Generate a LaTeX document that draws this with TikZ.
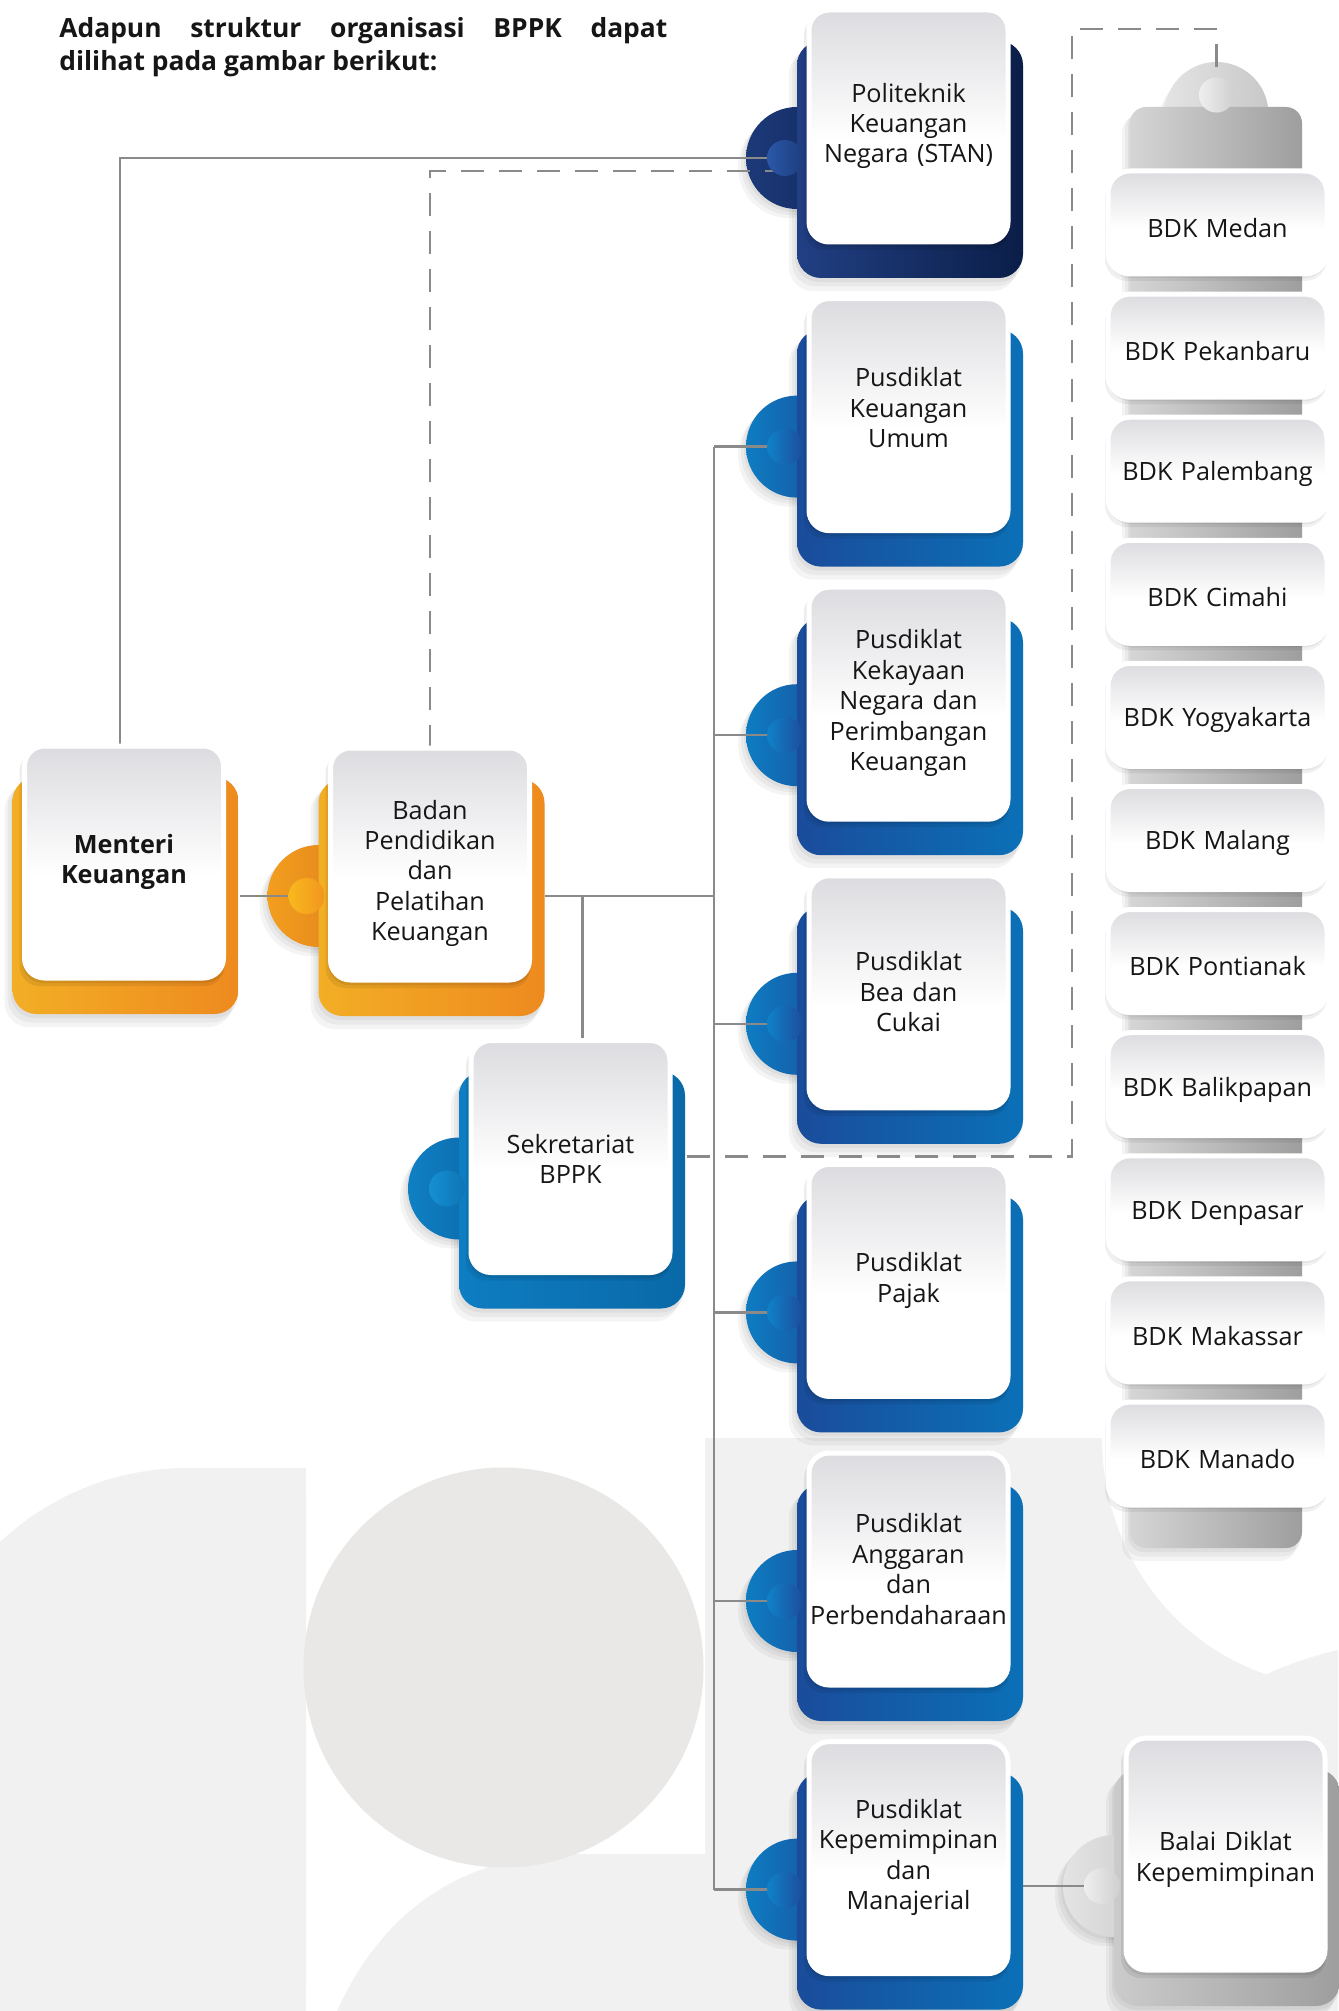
\documentclass[tikz,border=0pt]{standalone}
\usepackage{fontspec}
\setmainfont{Open Sans}
\usetikzlibrary{calc}
\pgfdeclarelayer{bgl}\pgfdeclarelayer{backl}\pgfdeclarelayer{linel}\pgfdeclarelayer{dotl}
\pgfsetlayers{bgl,backl,linel,dotl,main}
\definecolor{cardtop}{HTML}{DCDCE0}
\definecolor{txt}{HTML}{161616}
\definecolor{lineg}{HTML}{8A8A8A}
\definecolor{bgA}{HTML}{F1F1F1}
\definecolor{bgB}{HTML}{E9E8E6}
\definecolor{oL}{HTML}{F2AE25}\definecolor{oR}{HTML}{EE8A1F}
\definecolor{ohL}{HTML}{F39E1F}\definecolor{ohR}{HTML}{DD7E1A}
\definecolor{odL}{HTML}{F8B81E}\definecolor{odR}{HTML}{F2961E}
\definecolor{bL}{HTML}{1A4C9B}\definecolor{bR}{HTML}{0B70B7}
\definecolor{bhL}{HTML}{0E7CC2}\definecolor{bhR}{HTML}{1B4A97}
\definecolor{bdL}{HTML}{0F82C8}\definecolor{bdR}{HTML}{1D4C9C}
\definecolor{nL}{HTML}{213F83}\definecolor{nR}{HTML}{0B1E48}
\definecolor{nhL}{HTML}{1C3978}\definecolor{nhR}{HTML}{12295F}
\definecolor{ndL}{HTML}{2A58A8}\definecolor{ndR}{HTML}{1E3D7F}
\definecolor{kL}{HTML}{0E7DC2}\definecolor{kR}{HTML}{0A69A8}
\definecolor{khL}{HTML}{0F80C4}\definecolor{khR}{HTML}{0B62A0}
\definecolor{kdL}{HTML}{1590D2}\definecolor{kdR}{HTML}{0E74B6}
\definecolor{gL}{HTML}{CBCBCB}\definecolor{gR}{HTML}{9E9E9E}
\definecolor{ghL}{HTML}{E4E4E4}\definecolor{ghR}{HTML}{C8C8C8}
\definecolor{gdL}{HTML}{EFEFEF}\definecolor{gdR}{HTML}{CFCFCF}
\pgfdeclareverticalshading{cardshade}{100bp}{color(0bp)=(white); color(25bp)=(white); color(47bp)=(white); color(75bp)=(cardtop); color(100bp)=(cardtop)}
\newcommand{\cardfont}{\fontsize{12.6pt}{15.2pt}\selectfont}
\newcommand{\ttlfont}{\fontsize{13.2pt}{16.2pt}\selectfont\bfseries}
\newcommand{\pushdn}[1]{\rule{0pt}{#1}}
\newcommand{\pushup}[1]{\rule[-#1]{0pt}{0pt}}
\tikzset{
  card/.style={rectangle, rounded corners=10pt, text width=99.5pt, minimum height=116pt,
    draw=white, line width=2.5pt, shade, shading=cardshade, align=center, font=\cardfont,
    text=txt, inner xsep=0pt, inner ysep=2pt, outer sep=0pt},
  bdkbox/.style={card, rounded corners=11pt, text width=109.5pt, minimum height=51.5pt},
  backbase/.style={rounded corners=12pt},
  halfbase/.style={},
  orangeback/.style={backbase, left color=oL, right color=oR},
  orangehalf/.style={halfbase, left color=ohL, right color=ohR},
  orangedot/.style={left color=odL, right color=odR},
  plainback/.style={orangeback}, plainhalf/.style={}, plaindot/.style={},
  plainhs/.style={opacity=0},
  blueback/.style={backbase, left color=bL, right color=bR},
  bluehalf/.style={halfbase, left color=bhL, right color=bhR},
  bluedot/.style={left color=bdL, right color=bdR},
  navyback/.style={backbase, left color=nL, right color=nR},
  navyhalf/.style={halfbase, left color=nhL, right color=nhR},
  navydot/.style={left color=ndL, right color=ndR},
  sekbback/.style={backbase, left color=kL, right color=kR},
  sekbhalf/.style={halfbase, left color=khL, right color=khR},
  sekbdot/.style={left color=kdL, right color=kdR},
  grayback/.style={backbase, left color=gL, right color=gR},
  grayhalf/.style={halfbase, left color=ghL, right color=ghR},
  graydot/.style={left color=gdL, right color=gdR},
  orangehs/.style={}, bluehs/.style={}, navyhs/.style={}, sekbhs/.style={}, grayhs/.style={},
  conn/.style={draw=lineg, line width=1.25pt},
  dconn/.style={draw=lineg, line width=1.25pt, dash pattern=on 11.5pt off 7.5pt},
  shad/.style={fill=black, opacity=0.045},
}
\newcommand{\orgcard}[6]{%
  \node[card,#6] (#1) at (#2,#3) {#5};
  \coordinate (#1-in) at ($(#1.west)+(-24,32)$);
  \begin{pgfonlayer}{backl}
    \foreach \s in {0,3,6}
      \fill[shad, rounded corners=12pt] ($(#1.north west)+(-14-\s,34+\s)$) rectangle ($(#1.south east)+(15-\s,40+1.5*\s)$);
    \foreach \s in {0,3,6}
      \fill[shad, #4hs] ($(#1.west)+(-14-\s,35+\s)$) circle (25.5pt);
    \path[#4half] ($(#1.west)+(-12,32)$) circle (25.5pt);
    \path[#4back] ($(#1.north west)+(-12,31)$) rectangle ($(#1.south east)+(15,36)$);
    \foreach \s in {0,3}
      \fill[black, opacity=0.07, rounded corners=10pt] ($(#1.north west)+(-2-\s,2+\s)$) rectangle ($(#1.south east)+(1,5+\s)$);
  \end{pgfonlayer}
  \begin{pgfonlayer}{dotl}
    \path[#4dot] (#1-in) circle (9pt);
  \end{pgfonlayer}}
\begin{document}
\begin{tikzpicture}[x=0.5pt,y=-0.5pt]
\useasboundingbox (0,0) rectangle (1338,2011);
\begin{pgfonlayer}{bgl}
  \fill[white] (0,0) rectangle (1338,2011);
  \begin{scope}
    \clip (0,1468) rectangle (306,2011);
    \fill[bgA] (187,1741) circle (136.5pt);
    \fill[bgA] (187,1468) rectangle (306,2011);
    \fill[bgA] (0,1741) rectangle (306,2011);
  \end{scope}
  \fill[bgA] (337,2011) .. controls (385,1905) and (470,1854) .. (574,1854) -- (705,1854) -- (705,2011) -- cycle;
  \fill[bgB] (503.5,1667.5) circle (100pt);
  \fill[bgA] (705,1438) rectangle (1338,2011);
  \fill[white] (1338,1438) ellipse (118pt and 124pt);
  \begin{scope}
    \clip (705,1438) rectangle (1338,2011);
    \fill[bgA] (1420,2011) circle (185pt);
  \end{scope}
\end{pgfonlayer}

\node[anchor=base west, inner sep=0pt, font=\ttlfont, text=txt] (title) at (59,38)
  {\parbox[t]{304pt}{Adapun struktur organisasi BPPK dapat\linebreak dilihat pada gambar berikut:}};

\orgcard{menteri}{124}{862}{plain}{Menteri\\Keuangan}{font=\cardfont\bfseries}
\orgcard{badan}{430}{864}{orange}{\pushdn{19pt}Badan\\Pendidikan\\dan\\Pelatihan\\Keuangan}{}
\orgcard{sek}{570.5}{1156.5}{sekb}{\pushdn{12pt}Sekretariat\\BPPK}{}
\orgcard{stan}{908.5}{126}{navy}{Politeknik\\Keuangan\\Negara (STAN)}{}
\orgcard{ku}{908.5}{414.6}{blue}{Pusdiklat\\Keuangan\\Umum\pushup{7pt}}{}
\orgcard{knpk}{908.5}{703.2}{blue}{Pusdiklat\\Kekayaan\\Negara dan\\Perimbangan\\Keuangan}{}
\orgcard{bc}{908.5}{991.8}{blue}{Pusdiklat\\Bea dan\\Cukai}{}
\orgcard{pajak}{908.5}{1280.4}{blue}{Pusdiklat\\Pajak}{}
\orgcard{ang}{908.5}{1569}{blue}{Pusdiklat\\Anggaran\\dan\\Perbendaharaan}{}
\orgcard{kep}{908.5}{1857.6}{blue}{Pusdiklat\\Kepemimpinan\\dan\\Manajerial}{}
\orgcard{balai}{1225.5}{1854}{gray}{\pushdn{15pt}Balai Diklat\\Kepemimpinan}{}

% BDK column
\begin{pgfonlayer}{backl}
  \foreach \s in {0,3,6}
    \fill[shad] (1216.5-\s,117+\s) circle (26pt);
  \path[left color=ghL, right color=ghR] (1216.5,114) circle (26pt);
  \foreach \s in {0,3,6}
    \fill[shad, rounded corners=8pt] (1128-\s,110+\s) rectangle (1302-\s,1552+1.5*\s);
  \path[rounded corners=8pt, left color=gL!80, right color=gR] (1130,107) rectangle (1302,1548);
  \foreach \i in {0,...,10}
    \foreach \s in {0,3}
      \fill[black, opacity=0.06, rounded corners=11pt] (1108-\s,{171+123.1*\i+2+\s}) rectangle (1327,{274+123.1*\i+4+\s});
\end{pgfonlayer}
\coordinate (bdk-in) at (1216.5,95);
\begin{pgfonlayer}{dotl}
  \path[graydot] (bdk-in) circle (8.8pt);
\end{pgfonlayer}
\foreach \n [count=\i from 0] in {Medan,Pekanbaru,Palembang,Cimahi,Yogyakarta,Malang,Pontianak,Balikpapan,Denpasar,Makassar,Manado}
  \node[bdkbox] (bdk\i) at (1217.5,{222.5+123.1*\i}) {\pushdn{15pt}BDK \n};

\coordinate (col) at (714,0);
\coordinate (dtop) at (1072,29);
\begin{pgfonlayer}{linel}
  \draw[conn] ([xshift=-2pt]menteri.north) |- (stan-in);
  \draw[dconn] (badan.north) |- ($(stan-in)+(-12,13)$);
  \draw[conn] ($(badan-in -| menteri.east)+(16,0)$) -- (badan-in);
  \draw[conn] ($(badan-in -| badan.east)+(15,0)$) -- (badan-in -| col);
  \draw[conn] ([xshift=6pt]sek.north) -- ([xshift=6pt]sek.north |- badan-in);
  \draw[conn] (ku-in -| col) -- (kep-in -| col);
  \foreach \p in {ku,knpk,bc,pajak,ang,kep}
    \draw[conn] (\p-in -| col) -- (\p-in);
  \draw[conn] ($(balai-in -| kep.east)+(15,0)$) -- (balai-in);
  \draw[dconn] ($(sek.east)+(17,0)$) -| (dtop) -| (bdk-in);
\end{pgfonlayer}
\end{tikzpicture}
\end{document}
